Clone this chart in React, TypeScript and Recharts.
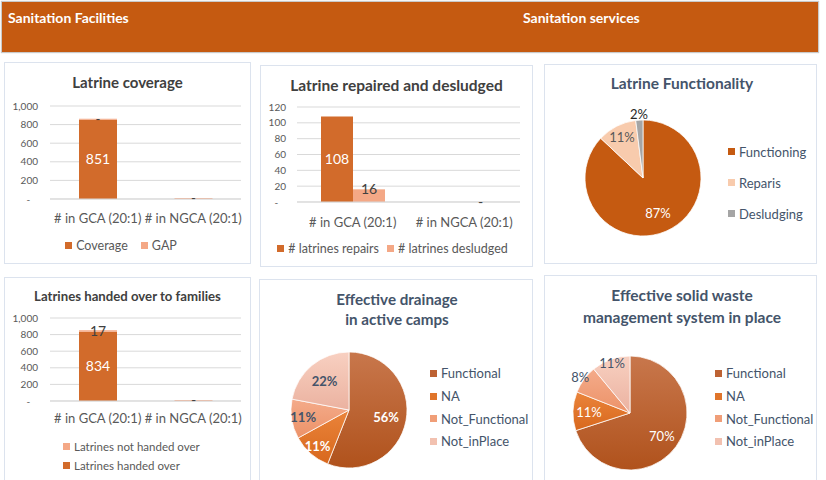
import React from 'react';
import { BarChart, Bar, XAxis, YAxis, CartesianGrid, LabelList, Legend, PieChart, Pie, Cell } from 'recharts';

const sites = ['# in GCA (20:1)', '# in NGCA (20:1)'];

const coverage = [851, 0];
const coverageGap = [0, 0];

const repairs = [108, 0];
const desludged = [16, 0];

const handedOver = [834, 0];
const notHandedOver = [17, 0];

const functionalityNames = ['Functioning', 'Reparis', 'Desludging'];
const functionalityShares = [87, 11, 2];

const statusNames = ['Functional', 'NA', 'Not_Functional', 'Not_inPlace'];
const drainageShares = [56, 11, 11, 22];
const solidWasteShares = [70, 11, 8, 11];

const countTicks = [0, 200, 400, 600, 800, 1000];
const repairTicks = [0, 20, 40, 60, 80, 100, 120];

const coverageData = sites.map((site, i) => ({ site, coverage: coverage[i], gap: coverageGap[i] }));
const repairData = sites.map((site, i) => ({ site, repairs: repairs[i], desludged: desludged[i] }));
const handoverData = sites.map((site, i) => ({ site, handed: handedOver[i], notHanded: notHandedOver[i] }));
const functionalityData = functionalityNames.map((name, i) => ({ name, share: functionalityShares[i] }));
const drainageData = statusNames.map((name, i) => ({ name, share: drainageShares[i] }));
const solidWasteData = statusNames.map((name, i) => ({ name, share: solidWasteShares[i] }));

const FONT = 'Lato, "Open Sans", sans-serif';
const DARK = '#D26B2B';
const LIGHT = '#F4A886';
const GRID = '#D9D9D9';
const AXIS_TEXT = '#595959';
const SLATE = '#44546A';
const RAD = Math.PI / 180;

const pieColors = ['#C55A11', '#F8CBAD', '#A5A5A5'];
const statusGradients = [
  ['#C8774C', '#B0521C'],
  ['#EA843B', '#D8681D'],
  ['#F4AB8A', '#EC9268'],
  ['#F8D0C1', '#EBB2A0'],
];
const statusLegend = ['#BD6233', '#E0752B', '#F09E78', '#F2C1B0'];

const dashFmt = (v: any) => (v === 0 ? '-' : v);
const gapFmt = (v: any) => (v === 0 ? '-' : '');
const yFmt = (v: number) => (v === 0 ? '-\u00a0\u00a0\u00a0' : v.toLocaleString('en-US'));

const tickStyle = { fontSize: 10, fill: AXIS_TEXT, fontFamily: FONT };
const catStyle = { fontSize: 13, fill: AXIS_TEXT, fontFamily: FONT };

function LegendBox(props: any) {
  const { payload = [], order, colors, vertical, rowH, fontSize, color, gap } = props;
  const items = order.map((name: string, i: number) => {
    const p = payload.find((q: any) => q.value === name);
    return { name, color: colors ? colors[i] : p ? p.color : '#999' };
  });
  return (
    <div
      style={{
        display: 'flex',
        flexDirection: vertical ? 'column' : 'row',
        justifyContent: vertical ? 'flex-start' : 'center',
        fontFamily: FONT,
        fontSize,
        color,
        whiteSpace: 'nowrap',
      }}
    >
      {items.map((it: any) => (
        <div key={it.name} style={{ display: 'flex', alignItems: 'center', height: rowH, marginRight: vertical ? 0 : gap }}>
          <span style={{ display: 'inline-block', width: 7, height: 7, background: it.color, marginRight: 4 }} />
          {it.name}
        </div>
      ))}
    </div>
  );
}

function Panel({ x, y, w, h, children }: any) {
  return (
    <div
      style={{
        position: 'absolute',
        left: x,
        top: y,
        width: w,
        height: h,
        boxSizing: 'border-box',
        border: '1px solid #DCE3EE',
        background: '#fff',
      }}
    >
      <div style={{ position: 'absolute', left: -1, top: -1, width: w, height: h }}>{children}</div>
    </div>
  );
}

function Title({ lines, top, w, size, color, lineH }: any) {
  return (
    <div
      style={{
        position: 'absolute',
        left: 0,
        top,
        width: w,
        textAlign: 'center',
        fontFamily: FONT,
        fontWeight: 700,
        fontSize: size,
        lineHeight: `${lineH}px`,
        color,
        zIndex: 2,
      }}
    >
      {lines.map((l: string) => (
        <div key={l}>{l}</div>
      ))}
    </div>
  );
}

const pieLabel = (radii: number[], colors: string[], weight: number, size: number) => (props: any) => {
  const { cx, cy, midAngle, outerRadius, index, value } = props;
  const r = outerRadius * radii[index];
  const x = cx + r * Math.cos(-midAngle * RAD);
  const y = cy + r * Math.sin(-midAngle * RAD);
  return (
    <text x={x} y={y} fill={colors[index]} textAnchor="middle" dominantBaseline="central" fontSize={size} fontWeight={weight} fontFamily={FONT}>
      {value}%
    </text>
  );
};

function StatusPie({ id, data, cx, cy, r, w, h, labelRadii, labelColors, weight, legendTop, legendLeft }: any) {
  return (
    <PieChart width={w} height={h} margin={{ top: 0, right: 0, bottom: 0, left: 0 }}>
      <defs>
        {statusGradients.map((g, i) => (
          <linearGradient key={i} id={`${id}-${i}`} x1="0" y1="0" x2="0" y2="1">
            <stop offset="0%" stopColor={g[0]} />
            <stop offset="100%" stopColor={g[1]} />
          </linearGradient>
        ))}
      </defs>
      <Legend
        layout="horizontal"
        verticalAlign="middle"
        align="center"
        wrapperStyle={{ left: legendLeft, top: legendTop, width: 110 }}
        content={(p: any) => (
          <LegendBox {...p} order={statusNames} colors={statusLegend} vertical rowH={22.7} fontSize={13} color={SLATE} />
        )}
      />
      <Pie
        data={data}
        dataKey="share"
        nameKey="name"
        cx={cx}
        cy={cy}
        outerRadius={r}
        startAngle={90}
        endAngle={-270}
        stroke="#fff"
        strokeWidth={0.75}
        labelLine={false}
        label={pieLabel(labelRadii, labelColors, weight, 13)}
        isAnimationActive={false}
      >
        {data.map((d: any, i: number) => (
          <Cell key={d.name} fill={`url(#${id}-${i})`} />
        ))}
      </Pie>
    </PieChart>
  );
}

export default function App() {
  return (
    <div style={{ position: 'absolute', left: 0, top: 0, width: 826, height: 480, overflow: 'hidden', background: '#fff', fontFamily: FONT }}>
      <div
        style={{
          position: 'absolute',
          left: 2,
          top: 2,
          width: 816,
          height: 50,
          background: '#C55A11',
          boxShadow: '0 0 1px 1px #C9C9C9',
          color: '#fff',
          fontWeight: 700,
          fontSize: 14,
        }}
      >
        <div style={{ position: 'absolute', left: 6, top: 7 }}>Sanitation Facilities</div>
        <div style={{ position: 'absolute', left: 521, top: 7 }}>Sanitation services</div>
      </div>

      {/* Latrine coverage */}
      <Panel x={4} y={62} w={247} h={202}>
        <Title lines={['Latrine coverage']} top={10} w={247} size={15} color="#404040" lineH={20} />
        <BarChart width={247} height={202} data={coverageData} margin={{ top: 44, right: 10, bottom: 43, left: 6 }} barSize={38}>
          <CartesianGrid vertical={false} stroke={GRID} />
          <XAxis dataKey="site" interval={0} axisLine={{ stroke: GRID }} tickLine={false} tickMargin={9} height={22} tick={catStyle} />
          <YAxis domain={[0, 1000]} ticks={countTicks} interval={0} width={40} axisLine={false} tickLine={false} tickMargin={6} tick={tickStyle} tickFormatter={yFmt} />
          <Legend
            layout="horizontal"
            verticalAlign="middle"
            align="center"
            wrapperStyle={{ left: 0, top: 175, width: 247 }}
            content={(p: any) => <LegendBox {...p} order={['Coverage', 'GAP']} rowH={16} fontSize={12.5} color={AXIS_TEXT} gap={13} />}
          />
          <Bar dataKey="coverage" name="Coverage" stackId="a" fill={DARK} isAnimationActive={false}>
            <LabelList dataKey="coverage" position="center" fill="#fff" fontSize={14} fontFamily={FONT} formatter={dashFmt} />
          </Bar>
          <Bar dataKey="gap" name="GAP" stackId="a" fill={LIGHT} minPointSize={1} isAnimationActive={false}>
            <LabelList dataKey="gap" position="center" fill="#404040" fontSize={13} fontFamily={FONT} formatter={gapFmt} />
          </Bar>
        </BarChart>
      </Panel>

      {/* Latrine repaired and desludged */}
      <Panel x={260} y={65} w={273} h={202}>
        <Title lines={['Latrine repaired and desludged']} top={10} w={273} size={15.5} color="#404040" lineH={20} />
        <BarChart width={273} height={202} data={repairData} margin={{ top: 42, right: 13, bottom: 40, left: 7 }} barSize={32} barGap={0}>
          <CartesianGrid vertical={false} stroke={GRID} />
          <XAxis dataKey="site" interval={0} axisLine={{ stroke: GRID }} tickLine={false} tickMargin={10} height={25} tick={catStyle} />
          <YAxis domain={[0, 120]} ticks={repairTicks} interval={0} width={30} axisLine={false} tickLine={false} tickMargin={5} tick={tickStyle} tickFormatter={yFmt} />
          <Legend
            layout="horizontal"
            verticalAlign="middle"
            align="center"
            wrapperStyle={{ left: 0, top: 175, width: 273 }}
            content={(p: any) => (
              <LegendBox {...p} order={['# latrines repairs', '# latrines desludged']} rowH={16} fontSize={12.5} color={AXIS_TEXT} gap={8} />
            )}
          />
          <Bar dataKey="repairs" name="# latrines repairs" fill={DARK} isAnimationActive={false}>
            <LabelList dataKey="repairs" position="center" fill="#fff" fontSize={14} fontFamily={FONT} formatter={dashFmt} />
          </Bar>
          <Bar dataKey="desludged" name="# latrines desludged" fill={LIGHT} minPointSize={0.01} isAnimationActive={false}>
            <LabelList dataKey="desludged" position="top" offset={-5} fill="#404040" fontSize={14} fontFamily={FONT} formatter={dashFmt} />
          </Bar>
        </BarChart>
      </Panel>

      {/* Latrine Functionality */}
      <Panel x={544} y={64} w={273} h={200}>
        <Title lines={['Latrine Functionality']} top={9} w={276} size={15.5} color={SLATE} lineH={20} />
        <PieChart width={273} height={200} margin={{ top: 0, right: 0, bottom: 0, left: 0 }}>
          <Legend
            layout="horizontal"
            verticalAlign="middle"
            align="center"
            wrapperStyle={{ left: 184, top: 72, width: 90 }}
            content={(p: any) => (
              <LegendBox {...p} order={functionalityNames} colors={pieColors} vertical rowH={31} fontSize={13} color={SLATE} />
            )}
          />
          <Pie
            data={functionalityData}
            dataKey="share"
            nameKey="name"
            cx={99}
            cy={114}
            outerRadius={58}
            startAngle={90}
            endAngle={-270}
            stroke="#fff"
            strokeWidth={0.75}
            labelLine={false}
            label={pieLabel([0.65, 0.8, 1.1], ['#fff', '#595959', '#262626'], 400, 13)}
            isAnimationActive={false}
          >
            {functionalityData.map((d, i) => (
              <Cell key={d.name} fill={pieColors[i]} />
            ))}
          </Pie>
        </PieChart>
      </Panel>

      {/* Latrines handed over to families */}
      <Panel x={4} y={277} w={247} h={210}>
        <Title lines={['Latrines handed over to families']} top={10} w={247} size={13.2} color="#404040" lineH={18} />
        <BarChart width={247} height={210} data={handoverData} margin={{ top: 41, right: 10, bottom: 61, left: 6 }} barSize={38}>
          <CartesianGrid vertical={false} stroke={GRID} />
          <XAxis dataKey="site" interval={0} axisLine={{ stroke: GRID }} tickLine={false} tickMargin={7} height={25} tick={catStyle} />
          <YAxis domain={[0, 1000]} ticks={countTicks} interval={0} width={40} axisLine={false} tickLine={false} tickMargin={6} tick={tickStyle} tickFormatter={yFmt} />
          <Legend
            layout="horizontal"
            verticalAlign="middle"
            align="center"
            wrapperStyle={{ left: 59, top: 160, width: 180 }}
            content={(p: any) => (
              <LegendBox {...p} order={['Latrines not handed over', 'Latrines handed over']} vertical rowH={19} fontSize={11.5} color={AXIS_TEXT} />
            )}
          />
          <Bar dataKey="handed" name="Latrines handed over" stackId="a" fill={DARK} isAnimationActive={false}>
            <LabelList dataKey="handed" position="center" fill="#fff" fontSize={14} fontFamily={FONT} formatter={dashFmt} />
          </Bar>
          <Bar dataKey="notHanded" name="Latrines not handed over" stackId="a" fill={LIGHT} minPointSize={1} isAnimationActive={false}>
            <LabelList dataKey="notHanded" position="center" fill="#404040" fontSize={14} fontFamily={FONT} formatter={dashFmt} />
          </Bar>
        </BarChart>
      </Panel>

      {/* Effective drainage */}
      <Panel x={259} y={279} w={274} h={210}>
        <Title lines={['Effective drainage', 'in active camps']} top={10} w={276} size={15.2} color={SLATE} lineH={20} />
        <StatusPie
          id="drain"
          data={drainageData}
          cx={90}
          cy={131}
          r={58}
          w={274}
          h={210}
          labelRadii={[0.65, 0.82, 0.8, 0.66]}
          labelColors={['#fff', '#fff', SLATE, SLATE]}
          weight={700}
          legendLeft={171}
          legendTop={83}
        />
      </Panel>

      {/* Effective solid waste */}
      <Panel x={544} y={275} w={273} h={214}>
        <Title lines={['Effective solid waste', 'management system in place']} top={9} w={276} size={15.5} color={SLATE} lineH={22} />
        <StatusPie
          id="waste"
          data={solidWasteData}
          cx={86}
          cy={138}
          r={57}
          w={273}
          h={214}
          labelRadii={[0.69, 0.72, 1.08, 0.93]}
          labelColors={['#fff', '#fff', SLATE, SLATE]}
          weight={400}
          legendLeft={171}
          legendTop={87}
        />
      </Panel>
    </div>
  );
}
